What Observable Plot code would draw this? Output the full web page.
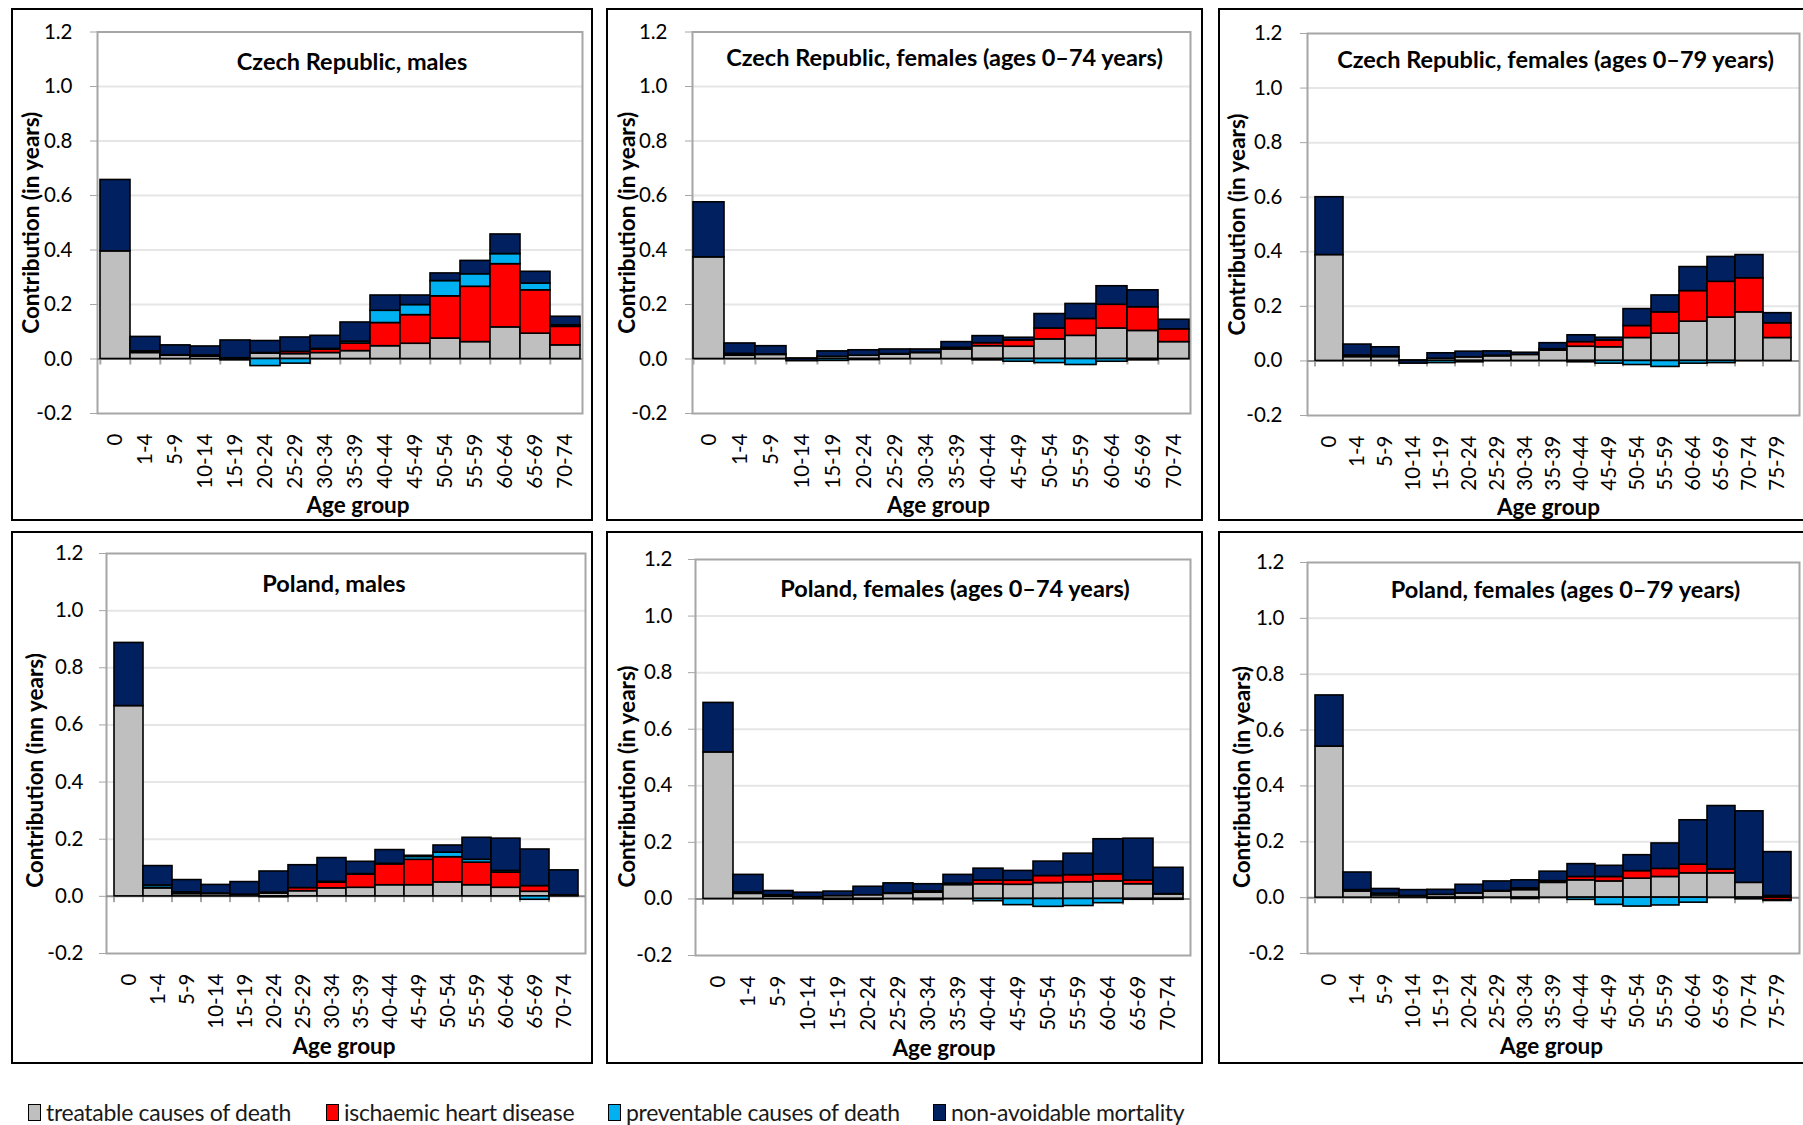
<!DOCTYPE html>
<html><head><meta charset="utf-8">
<script src="https://cdn.jsdelivr.net/npm/d3@7"></script>
<script src="https://cdn.jsdelivr.net/npm/@observablehq/plot@0.6"></script>
<style>
body{margin:0;background:#fff;font-family:Lato,"Open Sans",sans-serif;}
#root{position:relative;width:1803px;height:1125px;overflow:hidden;background:#fff}
.panel{position:absolute;border:2px solid #000;box-sizing:border-box;overflow:hidden;background:#fff}
.panel svg{display:block}
.lg{position:absolute;top:1098px;display:flex;align-items:center;font-size:23px;letter-spacing:-0.3px;color:#1a1a1a;white-space:nowrap}
.sw{display:inline-block;width:11px;height:15px;border:1.5px solid #000;margin-right:5px}
</style></head><body>
<div id="root"></div>
<script>
const ages74 = ["0","1-4","5-9","10-14","15-19","20-24","25-29","30-34","35-39","40-44","45-49","50-54","55-59","60-64","65-69","70-74"];
const ages79 = [...ages74, "75-79"];
const causes = ["treatable causes of death","ischaemic heart disease","preventable causes of death","non-avoidable mortality"];
const causeColors = ["#bfbfbf","#ff0000","#00b0f0","#002060"];
const yTicks = [-0.2,0,0.2,0.4,0.6,0.8,1.0,1.2];

// Czech Republic, males
const czM_treat = [0.395,0.022,0.012,0.009,0.003,0.020,0.018,0.022,0.029,0.047,0.056,0.075,0.062,0.116,0.093,0.050];
const czM_ihd   = [0,0.003,0,0.002,0,0.002,0.008,0.012,0.028,0.085,0.105,0.155,0.203,0.232,0.159,0.068];
const czM_prev  = [0,0.003,0.002,0.002,-0.005,-0.026,-0.017,0.003,0.007,0.045,0.037,0.056,0.046,0.037,0.025,0.006];
const czM_nonav = [0.262,0.053,0.036,0.033,0.065,0.044,0.053,0.048,0.070,0.056,0.035,0.028,0.049,0.072,0.043,0.031];
// Czech Republic, females 0-74
const czF74_treat = [0.373,0.012,0.015,0.002,0.008,0.012,0.016,0.022,0.035,0.047,0.045,0.072,0.085,0.112,0.103,0.062];
const czF74_ihd   = [0,0.002,0,0,0,0,0.002,0,0.006,0.011,0.023,0.040,0.062,0.087,0.087,0.047];
const czF74_prev  = [0,0.005,0.002,0,-0.007,-0.004,0,0.001,0,-0.005,-0.010,-0.015,-0.022,-0.010,-0.005,0];
const czF74_nonav = [0.202,0.038,0.030,-0.008,0.020,0.020,0.017,0.012,0.021,0.026,0.010,0.053,0.055,0.068,0.062,0.035];
// Czech Republic, females 0-79
const czF79_treat = [0.388,0.014,0.014,0.002,0.008,0.013,0.017,0.022,0.038,0.052,0.050,0.084,0.100,0.144,0.159,0.178,0.084];
const czF79_ihd   = [0,0.002,0,0,0,0,0.002,0,0.005,0.017,0.025,0.044,0.078,0.112,0.131,0.125,0.054];
const czF79_prev  = [0,0.004,0.004,0,-0.008,-0.005,0,0,0,-0.005,-0.010,-0.015,-0.022,-0.010,-0.008,0,0];
const czF79_nonav = [0.212,0.040,0.032,-0.010,0.020,0.021,0.016,0.008,0.022,0.025,0.010,0.062,0.062,0.088,0.091,0.085,0.037];
// Poland, males
const plM_treat = [0.666,0.028,0.008,0.008,0.006,0.010,0.018,0.028,0.030,0.039,0.039,0.049,0.039,0.030,0.016,0.004];
const plM_ihd   = [0,0.002,0,0.002,0,0.003,0.011,0.020,0.046,0.073,0.089,0.088,0.079,0.053,0.020,0];
const plM_prev  = [0,0.008,0.006,0,0,-0.003,0,0.003,0.002,0.002,0.010,0.016,0.010,0.006,-0.012,0];
const plM_nonav = [0.221,0.068,0.043,0.030,0.044,0.074,0.080,0.083,0.043,0.048,0.004,0.025,0.077,0.113,0.128,0.087];
// Poland, females 0-74
const plF74_treat = [0.518,0.018,0.008,0.006,0.010,0.013,0.018,0.022,0.049,0.052,0.050,0.056,0.059,0.062,0.052,0.016];
const plF74_ihd   = [0,0,0,0,0,0,0.002,0.005,0.005,0.013,0.015,0.025,0.025,0.025,0.013,0.001];
const plF74_prev  = [0,0.005,0.005,0,-0.003,-0.003,0,-0.004,0,-0.008,-0.022,-0.028,-0.025,-0.015,-0.003,-0.003];
const plF74_nonav = [0.175,0.062,0.015,0.016,0.016,0.030,0.035,0.025,0.031,0.042,0.034,0.051,0.076,0.124,0.148,0.093];
// Poland, females 0-79
const plF79_treat = [0.541,0.022,0.008,0.006,0.010,0.015,0.022,0.027,0.053,0.062,0.058,0.068,0.074,0.087,0.087,0.053,0.006];
const plF79_ihd   = [0,0,0,0,0,0,0.002,0.006,0.006,0.012,0.016,0.027,0.029,0.031,0.014,0,-0.009];
const plF79_prev  = [0,0.005,0.006,0,-0.004,-0.004,0,-0.005,0,-0.008,-0.026,-0.032,-0.028,-0.018,0,-0.006,-0.003];
const plF79_nonav = [0.183,0.063,0.017,0.021,0.018,0.031,0.034,0.029,0.034,0.046,0.040,0.057,0.091,0.159,0.227,0.256,0.157];

const panels = [
  {left:11, top:8, w:582, h:513, mL:84, mR:9, mT:21.5, mB:106, tp:18,
   title:"Czech Republic, males", tdx:12, tdy:30, ylab:"Contribution (in years)", ydx:-66, ydy:0, xdx:18, xdy:92,
   ages:ages74, series:[czM_treat,czM_ihd,czM_prev,czM_nonav]},
  {left:606, top:8, w:597, h:513, mL:84, mR:11, mT:21.5, mB:106, tp:18,
   title:"Czech Republic, females (ages 0\u201374 years)", tdx:3, tdy:26, ylab:"Contribution (in years)", ydx:-65, ydy:0, xdx:-3, xdy:92,
   ages:ages74, series:[czF74_treat,czF74_ihd,czF74_prev,czF74_nonav]},
  {left:1218, top:8, w:590, h:513, mL:87, mR:7, mT:23, mB:104, tp:18,
   title:"Czech Republic, females (ages 0\u201379 years)", tdx:2, tdy:27, ylab:"Contribution (in years)", ydx:-70, ydy:0, xdx:-5, xdy:92,
   ages:ages79, series:[czF79_treat,czF79_ihd,czF79_prev,czF79_nonav]},
  {left:11, top:531, w:582, h:533, mL:93, mR:6, mT:20, mB:109, tp:16,
   title:"Poland, males", tdx:-12, tdy:31, ylab:"Contribution (inn years)", ydx:-71, ydy:17, xdx:-2, xdy:93,
   ages:ages74, series:[plM_treat,plM_ihd,plM_prev,plM_nonav]},
  {left:606, top:531, w:597, h:533, mL:87, mR:11, mT:26, mB:107, tp:16,
   title:"Poland, females (ages 0\u201374 years)", tdx:12, tdy:30, ylab:"Contribution (in years)", ydx:-68, ydy:19, xdx:1, xdy:93,
   ages:ages74, series:[plF74_treat,plF74_ihd,plF74_prev,plF74_nonav]},
  {left:1218, top:531, w:590, h:533, mL:87, mR:7, mT:29, mB:109, tp:16,
   title:"Poland, females (ages 0\u201379 years)", tdx:12, tdy:28, ylab:"Contribution (in years)", ydx:-65, ydy:19, xdx:-2, xdy:93,
   ages:ages79, series:[plF79_treat,plF79_ihd,plF79_prev,plF79_nonav]}
];

const root = document.getElementById("root");
for (const p of panels) {
  const rows = [];
  p.ages.forEach((a, i) => causes.forEach((c, k) => rows.push({age:a, cause:c, value:p.series[k][i]})));
  const W = p.w - 4, H = p.h - 4;
  const bw = (W - p.mL - p.mR) / p.ages.length;
  const chart = Plot.plot({
    width: W, height: H,
    marginLeft: p.mL, marginRight: p.mR, marginTop: p.mT, marginBottom: p.mB,
    style: {fontFamily: "Lato, 'Open Sans', sans-serif", fontSize: "20.5px", color: "#000", background: "transparent", overflow: "visible"},
    x: {type: "band", domain: p.ages, padding: 0, label: null},
    y: {domain: [-0.2, 1.2], label: null},
    color: {domain: causes, range: causeColors},
    marks: [
      Plot.ruleY([0.2, 0.4, 0.6, 0.8, 1.0], {stroke: "#e6e6e6", strokeWidth: 2}),
      Plot.frame({stroke: "#a6a6a6", strokeWidth: 2}),
      Plot.ruleY([0], {stroke: "#8c8c8c", strokeWidth: 2}),
      Plot.ruleX(p.ages, {x: d => d, y1: 0, y2: -0.022, dx: -bw / 2, stroke: "#a6a6a6", strokeWidth: 2}),
      Plot.barY(rows, {x: "age", y: "value", fill: "cause", order: causes, stroke: "#000", strokeWidth: 1.6}),
      Plot.axisY({ticks: yTicks, tickFormat: d => d.toFixed(1), tickSize: 7, tickPadding: p.tp, stroke: "#a6a6a6", label: null}),
      Plot.axisX({tickRotate: -90, tickSize: 0, tickPadding: 20, label: null}),
      Plot.text([p.title], {frameAnchor: "top", lineAnchor: "middle", textAnchor: "middle", dx: p.tdx, dy: p.tdy, fontWeight: "bold", fontSize: 23.5}),
      Plot.text([p.ylab], {frameAnchor: "left", lineAnchor: "middle", textAnchor: "middle", rotate: -90, dx: p.ydx, dy: p.ydy, fontWeight: "bold", fontSize: 22.5}),
      Plot.text(["Age group"], {frameAnchor: "bottom", lineAnchor: "middle", textAnchor: "middle", dx: p.xdx, dy: p.xdy, fontWeight: "bold", fontSize: 22.5})
    ]
  });
  const div = document.createElement("div");
  div.className = "panel";
  Object.assign(div.style, {left: p.left + "px", top: p.top + "px", width: p.w + "px", height: p.h + "px"});
  div.appendChild(chart);
  root.appendChild(div);
}

const legendX = [28, 326, 608, 933];
causes.forEach((c, i) => {
  const item = document.createElement("div");
  item.className = "lg";
  item.style.left = legendX[i] + "px";
  const sw = document.createElement("span");
  sw.className = "sw";
  sw.style.background = causeColors[i];
  item.appendChild(sw);
  item.appendChild(document.createTextNode(c));
  root.appendChild(item);
});
</script>
</body></html>
